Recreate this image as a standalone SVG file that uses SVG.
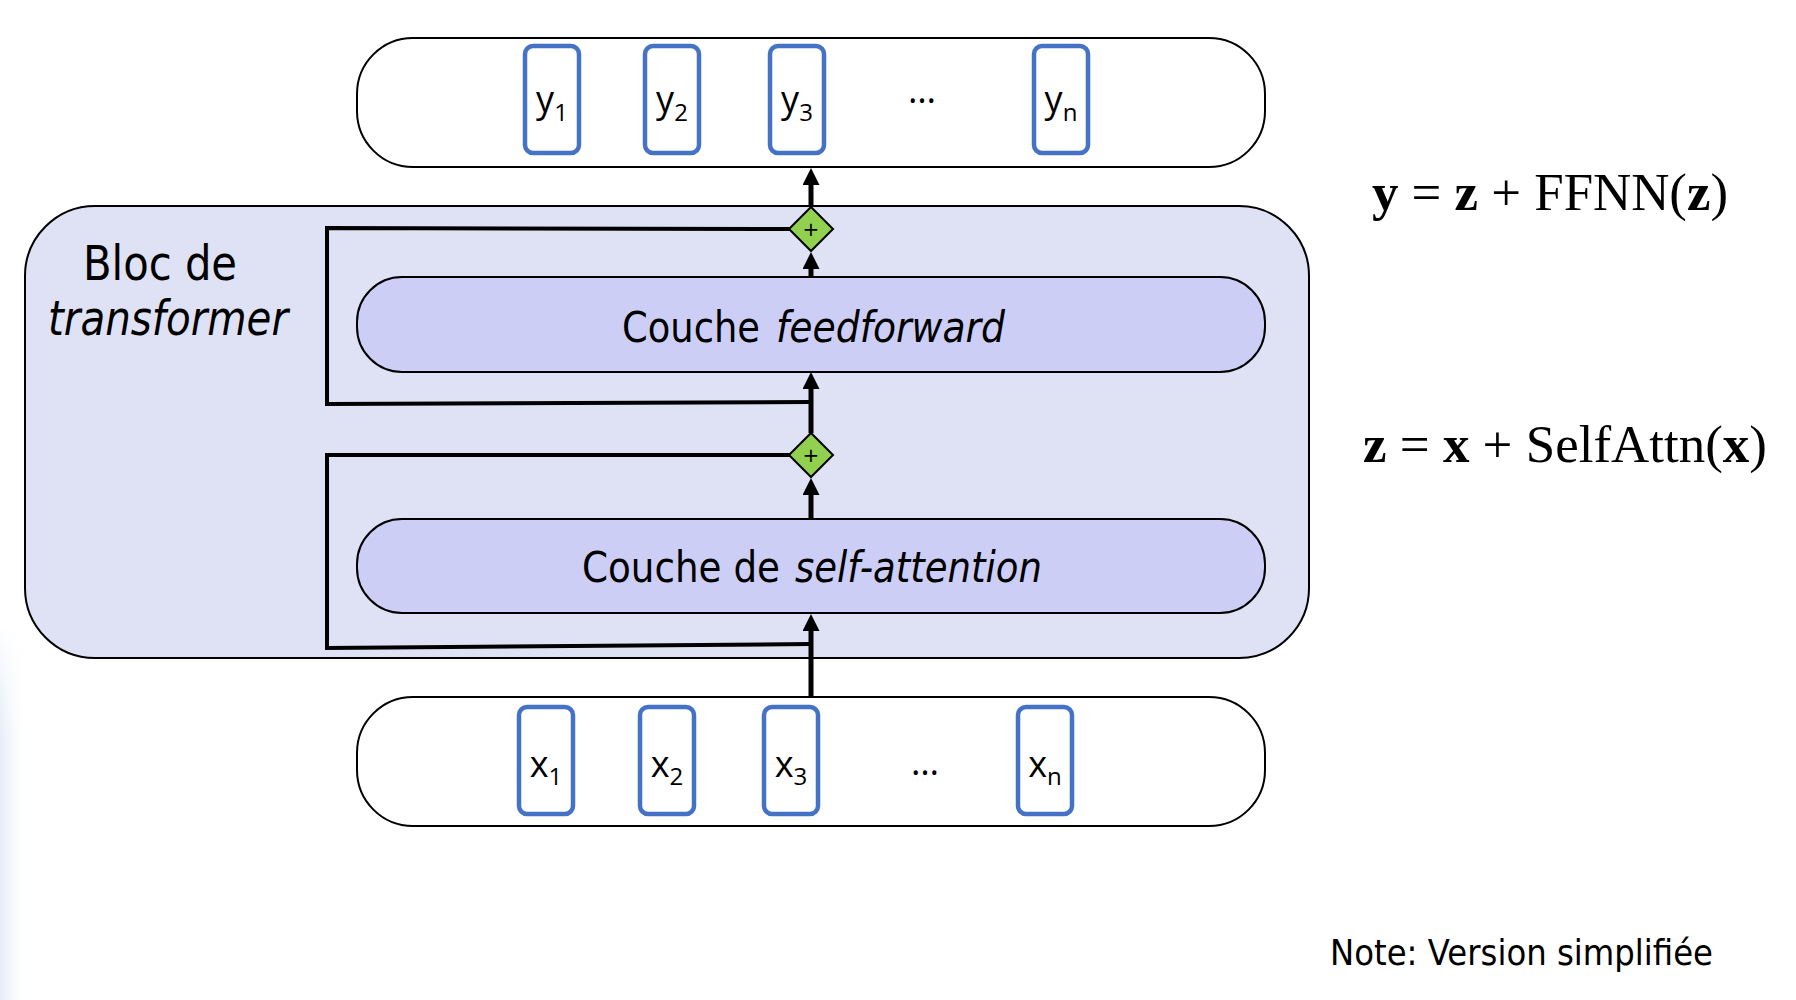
<svg xmlns="http://www.w3.org/2000/svg" width="1796" height="1000" viewBox="0 0 1796 1000">
<style>
.lbl{font-family:"DejaVu Sans","Liberation Sans",sans-serif;fill:#000}
.tok{font-family:"Open Sans","Liberation Sans",sans-serif;fill:#000;font-size:36px}
.sub{font-size:24px}
.eq{font-family:"Liberation Serif","Times New Roman",serif;font-size:53px;fill:#000}
.b{font-weight:bold}
.box{stroke:#000;stroke-width:2}
.tokbox{fill:#fff;stroke:#4472C4;stroke-width:4.5}
.main{stroke:#000;stroke-width:5;fill:none}
.res{stroke:#000;stroke-width:4;fill:none;stroke-linejoin:miter}
.add{fill:#92D050;stroke:#000;stroke-width:2}
</style>
<defs>
<marker id="ah" markerUnits="userSpaceOnUse" markerWidth="17" markerHeight="17" refX="7" refY="8.5" orient="auto">
<path d="M0,0 L17,8.5 L0,17 z" fill="#000"/>
</marker>
<linearGradient id="edge" x1="0" y1="0" x2="1" y2="0">
<stop offset="0" stop-color="#E4EDF9"/>
<stop offset="1" stop-color="#FFFFFF" stop-opacity="0"/>
</linearGradient>
<linearGradient id="edgev" x1="0" y1="0" x2="0" y2="1">
<stop offset="0" stop-color="#fff" stop-opacity="0"/>
<stop offset="0.3" stop-color="#fff" stop-opacity="1"/>
</linearGradient>
<mask id="em"><rect x="0" y="620" width="40" height="380" fill="url(#edgev)"/></mask>
</defs>
<rect x="0" y="0" width="1796" height="1000" fill="#fff"/>
<rect x="0" y="620" width="30" height="380" fill="url(#edge)" mask="url(#em)"/>

<g id="bloc">
<rect class="box" x="25" y="206" width="1284" height="452" rx="70" fill="#DFE2F4"/>
<text class="lbl" x="83" y="280" font-size="48" textLength="154" lengthAdjust="spacingAndGlyphs">Bloc de</text>
<text class="lbl" x="48" y="335" font-size="48" font-style="italic" textLength="240" lengthAdjust="spacingAndGlyphs">transformer</text>
</g>

<g id="output">
<rect class="box" x="357" y="38" width="908" height="129" rx="56" fill="#fff"/>
<rect class="tokbox" x="525" y="46" width="54" height="107" rx="8"/>
<text class="tok" x="552" y="112" text-anchor="middle">y<tspan class="sub" dy="9">1</tspan></text>
<rect class="tokbox" x="645" y="46" width="54" height="107" rx="8"/>
<text class="tok" x="672" y="112" text-anchor="middle">y<tspan class="sub" dy="9">2</tspan></text>
<rect class="tokbox" x="770" y="46" width="54" height="107" rx="8"/>
<text class="tok" x="797" y="112" text-anchor="middle">y<tspan class="sub" dy="9">3</tspan></text>
<text class="tok" x="922" y="103" text-anchor="middle">…</text>
<rect class="tokbox" x="1034" y="46" width="54" height="107" rx="8"/>
<text class="tok" x="1061" y="112" text-anchor="middle">y<tspan class="sub" dy="9">n</tspan></text>
</g>

<g id="feedforward">
<rect class="box" x="357" y="277" width="908" height="95" rx="45" fill="#CDCEF6"/>
<text class="lbl" x="622" y="342" font-size="43" textLength="138" lengthAdjust="spacingAndGlyphs">Couche</text>
<text class="lbl" x="776" y="342" font-size="43" font-style="italic" textLength="229" lengthAdjust="spacingAndGlyphs">feedforward</text>
</g>

<g id="selfattention">
<rect class="box" x="357" y="519" width="908" height="94" rx="45" fill="#CDCEF6"/>
<text class="lbl" x="582" y="582" font-size="43" textLength="198" lengthAdjust="spacingAndGlyphs">Couche de</text>
<text class="lbl" x="795" y="582" font-size="43" font-style="italic" textLength="247" lengthAdjust="spacingAndGlyphs">self-attention</text>
</g>

<g id="input">
<rect class="box" x="357" y="697" width="908" height="129" rx="56" fill="#fff"/>
<rect class="tokbox" x="519" y="707" width="54" height="107" rx="8"/>
<text class="tok" x="546" y="777" text-anchor="middle">x<tspan class="sub" dy="8">1</tspan></text>
<rect class="tokbox" x="640" y="707" width="54" height="107" rx="8"/>
<text class="tok" x="667" y="777" text-anchor="middle">x<tspan class="sub" dy="8">2</tspan></text>
<rect class="tokbox" x="764" y="707" width="54" height="107" rx="8"/>
<text class="tok" x="791" y="777" text-anchor="middle">x<tspan class="sub" dy="8">3</tspan></text>
<text class="tok" x="925" y="775" text-anchor="middle">…</text>
<rect class="tokbox" x="1018" y="707" width="54" height="107" rx="8"/>
<text class="tok" x="1045" y="777" text-anchor="middle">x<tspan class="sub" dy="8">n</tspan></text>
</g>

<g id="connectors">
<path class="res" d="M811,644 L327,648 L327,455 L790,455"/>
<path class="res" d="M811,402 L327,404 L327,228 L790,229"/>
<line class="main" x1="811" y1="697" x2="811" y2="624" marker-end="url(#ah)"/>
<line class="main" x1="811" y1="519" x2="811" y2="488" marker-end="url(#ah)"/>
<line class="main" x1="811" y1="433" x2="811" y2="382" marker-end="url(#ah)"/>
<line class="main" x1="811" y1="277" x2="811" y2="262" marker-end="url(#ah)"/>
<line class="main" x1="811" y1="207" x2="811" y2="178" marker-end="url(#ah)"/>
</g>

<g id="add1">
<polygon class="add" points="811,207 833,229 811,251 789,229"/>
<text class="lbl" x="811" y="236" font-size="20" text-anchor="middle">+</text>
</g>
<g id="add2">
<polygon class="add" points="811,433 833,455 811,477 789,455"/>
<text class="lbl" x="811" y="462" font-size="20" text-anchor="middle">+</text>
</g>

<g id="equations">
<text class="eq" x="1372" y="210" textLength="356" lengthAdjust="spacingAndGlyphs"><tspan class="b">y</tspan> = <tspan class="b">z</tspan> + FFNN(<tspan class="b">z</tspan>)</text>
<text class="eq" x="1363" y="462" textLength="404" lengthAdjust="spacingAndGlyphs"><tspan class="b">z</tspan> = <tspan class="b">x</tspan> + SelfAttn(<tspan class="b">x</tspan>)</text>
</g>

<g id="note">
<text class="lbl" x="1330" y="965" font-size="36" textLength="383" lengthAdjust="spacingAndGlyphs">Note: Version simplifiée</text>
</g>
</svg>
